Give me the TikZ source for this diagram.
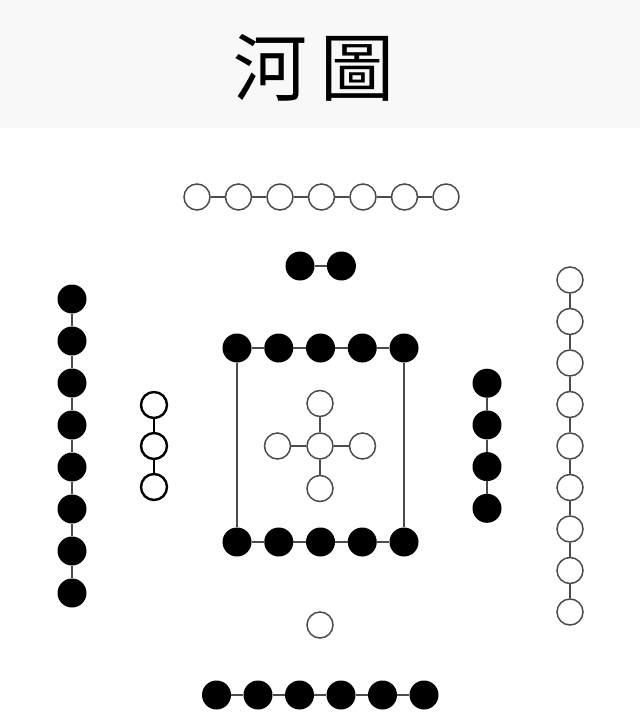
\documentclass[tikz,border=0pt]{standalone}
\usepackage{fontspec}
\newfontfamily\cjk{Noto Sans CJK TC}
\usepackage{xcolor}
\usepackage{tikz}
\usetikzlibrary{positioning}
\definecolor{ring}{RGB}{75,75,75}
\definecolor{titlebg}{RGB}{248,248,248}
\tikzstyle{yang} = [circle, draw=ring, fill=white, line width=1.5pt, minimum size=26pt, inner sep=0pt]
\tikzstyle{yin} = [circle, fill=black, minimum size=29pt, inner sep=0pt]
\tikzstyle{link} = [draw=ring, line width=1.3pt]

\begin{document}
\begin{tikzpicture}[x=1pt, y=-1pt]
    \useasboundingbox (0,0) rectangle (640,714);
    \fill[titlebg] (0,0) rectangle (640,128);
    \node [font=\cjk\fontsize{74}{80}\selectfont] (title) at (314,68) {河\hspace{14pt}圖};

    % top: 7 white, 2 black
    \foreach \i in {1,...,7} \node [yang] (top\i) at ({155.5+41.5*\i},197) {};
    \foreach \i [count=\j from 2] in {1,...,6} \path [link] (top\i) -- (top\j);
    \node [yin] (inner1) at (300,266) {};
    \node [yin, right=12pt of inner1] (inner2) {};
    \path [link] (inner1) -- (inner2);

    % left: 8 black, 3 white
    \foreach \i in {1,...,8} \node [yin] (left\i) at (72,{257+42*\i}) {};
    \foreach \i [count=\j from 2] in {1,...,7} \path [link] (left\i) -- (left\j);
    \foreach \i in {1,...,3} \node [yang, draw=black, line width=2.4pt] (three\i) at (154,{364+41*\i}) {};
    \path [draw, line width=1.3pt] (three1) -- (three2) (three2) -- (three3);

    % right: 4 black, 9 white
    \foreach \i in {1,...,4} \node [yin] (four\i) at (487,{341.5+41.7*\i}) {};
    \foreach \i [count=\j from 2] in {1,...,3} \path [link] (four\i) -- (four\j);
    \foreach \i in {1,...,9} \node [yang] (right\i) at (570,{238.5+41.5*\i}) {};
    \foreach \i [count=\j from 2] in {1,...,8} \path [link] (right\i) -- (right\j);

    % centre: 10 black round 5 white
    \foreach \i in {1,...,5} {
        \node [yin] (upper\i) at ({195.25+41.75*\i},348) {};
        \node [yin] (lower\i) at ({195.25+41.75*\i},542) {};
    }
    \foreach \i [count=\j from 2] in {1,...,4} \path [link] (upper\i) -- (upper\j) (lower\i) -- (lower\j);
    \path [link] (upper1) -- (lower1);
    \path [link] (upper5) -- (lower5);
    \node [yang] (mid) at (320,446) {};
    \node [yang, above=15pt of mid] (midN) {};
    \node [yang, below=15pt of mid] (midS) {};
    \node [yang, left=15pt of mid] (midW) {};
    \node [yang, right=15pt of mid] (midE) {};
    \path [link] (mid) -- (midN);
    \path [link] (mid) -- (midS);
    \path [link] (mid) -- (midW);
    \path [link] (mid) -- (midE);

    % bottom: 1 white, 6 black
    \node [yang] (one) at (320,625) {};
    \foreach \i in {1,...,6} \node [yin] (bottom\i) at ({175+41.5*\i},695) {};
    \foreach \i [count=\j from 2] in {1,...,5} \path [link] (bottom\i) -- (bottom\j);
\end{tikzpicture}
\end{document}
